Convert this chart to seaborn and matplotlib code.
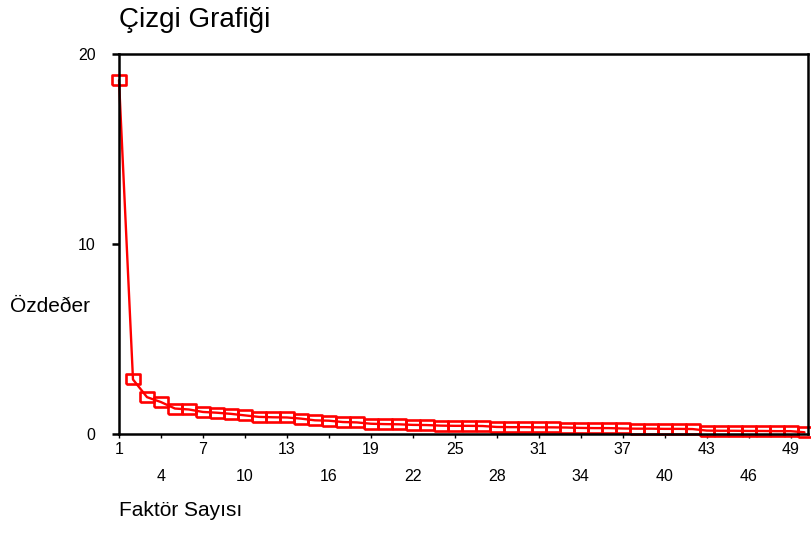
# Çizgi grafiği (scree plot) - özdeğerler
import matplotlib.pyplot as plt
import seaborn as sns
import pandas as pd
from matplotlib.ticker import FixedLocator, FixedFormatter

# Veriler
faktorler = list(range(1, 51))
ozdegerler = [18.62, 2.87, 1.94, 1.68, 1.34, 1.29, 1.16, 1.12, 1.06, 0.98,
              0.90, 0.88, 0.87, 0.81, 0.72, 0.70, 0.63, 0.61, 0.54, 0.52,
              0.51, 0.48, 0.47, 0.44, 0.43, 0.43, 0.42, 0.37, 0.36, 0.36,
              0.35, 0.35, 0.34, 0.32, 0.31, 0.31, 0.29, 0.28, 0.28, 0.27,
              0.27, 0.26, 0.18, 0.17, 0.17, 0.16, 0.16, 0.15, 0.15, 0.09]
ust_etiketler = [1, 7, 13, 19, 25, 31, 37, 43, 49]
alt_etiketler = [4, 10, 16, 22, 28, 34, 40, 46]
y_etiketler = [0, 10, 20]

sns.set_style("white")
plt.rcParams['font.family'] = ['Liberation Sans', 'DejaVu Sans']
plt.rcParams['text.color'] = 'black'
plt.rcParams['axes.labelcolor'] = 'black'
plt.rcParams['xtick.color'] = 'black'
plt.rcParams['ytick.color'] = 'black'

df = pd.DataFrame({"Faktor": faktorler, "Ozdeger": ozdegerler})

fig = plt.figure(figsize=(8.11, 5.45), dpi=100)
ax = fig.add_axes([119 / 811, 1 - 434 / 545, 689 / 811, 380 / 545])

# dikdörtgen işaretçi
kutu = [(-1.4, -1), (1.4, -1), (1.4, 1), (-1.4, 1), (-1.4, -1)]
sns.lineplot(data=df, x="Faktor", y="Ozdeger", ax=ax, color="red", linewidth=1.7,
             marker=kutu, markersize=10, markerfacecolor="none",
             markeredgecolor="red", markeredgewidth=1.9, clip_on=False)

ax.set_xlim(1, 50.25)
ax.set_ylim(0, 20)

for s in ax.spines.values():
    s.set_visible(True)
    s.set_color("black")
    s.set_linewidth(1.8)

ax.yaxis.set_major_locator(FixedLocator(y_etiketler))
ax.yaxis.set_major_formatter(FixedFormatter([str(v) for v in y_etiketler]))
ax.tick_params(axis="y", left=True, direction="out", length=5, width=1.8,
               labelsize=11.5, pad=12)

ax.xaxis.set_major_locator(FixedLocator(ust_etiketler))
ax.xaxis.set_major_formatter(FixedFormatter([str(v) for v in ust_etiketler]))
ax.xaxis.set_minor_locator(FixedLocator(alt_etiketler))
ax.xaxis.set_minor_formatter(FixedFormatter([str(v) for v in alt_etiketler]))
ax.tick_params(axis="x", which="major", bottom=True, direction="out", length=3,
               width=1, labelsize=11.5, pad=3)
ax.tick_params(axis="x", which="minor", bottom=True, direction="out", length=3,
               width=1, labelsize=11.5, pad=22)

ax.set_xlabel("Faktör Sayısı", fontsize=15, ha="left", va="center")
ax.xaxis.set_label_coords(0, -0.2)
ax.set_ylabel("Özdeðer", fontsize=15, rotation=0, ha="left", va="center")
ax.yaxis.set_label_coords(-109 / 689, 127 / 380)

fig.text(119 / 811, 1 - 20 / 545, "Çizgi Grafiği", fontsize=20, ha="left", va="center")

fig.savefig("out.png", dpi=100)
